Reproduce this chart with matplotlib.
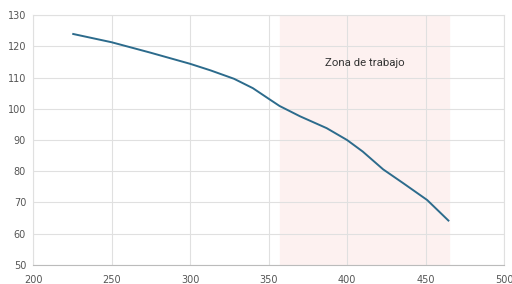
import matplotlib.pyplot as plt

# Datos de la curva
caudal = [225, 250, 274.5, 300, 313, 328, 340, 351, 357, 370, 387, 400, 410, 423, 436, 451, 465]
altura = [124, 121.3, 118.0, 114.4, 112.3, 109.6, 106.6, 102.9, 100.9, 97.6, 93.8, 90, 86.3, 80.6, 76.1, 70.8, 64]

zona_inicio = 357
zona_fin = 465
zona_texto = "Zona de trabajo"

x_ticks = [200, 250, 300, 350, 400, 450, 500]
y_ticks = [50, 60, 70, 80, 90, 100, 110, 120, 130]

fig = plt.figure(figsize=(5.12, 2.84), dpi=100)
ax = fig.add_axes([0.0645, 0.067, 0.92, 0.88])

ax.axvspan(zona_inicio, zona_fin, color='#fdf1f0', zorder=0)
ax.text(411.5, 114.6, zona_texto, ha='center', va='center',
        fontsize=8.2, color='#333333', family='Roboto')

ax.plot(caudal, altura, color='#2c6b8c', lw=1.4, zorder=3,
        solid_joinstyle='round', solid_capstyle='butt')

ax.set_xlim(200, 500)
ax.set_ylim(50, 130)
ax.set_xticks(x_ticks)
ax.set_yticks(y_ticks)
ax.grid(True, color='#e0e0e0', lw=0.8, zorder=1)
ax.set_axisbelow(True)
for s in ax.spines.values():
    s.set_color('#e0e0e0')
ax.spines['bottom'].set_color('#bbbbbb')
ax.tick_params(length=0, labelsize=7, colors='#555555', pad=7)
ax.tick_params(axis='y', pad=5)

fig.savefig('out.png', dpi=100)
